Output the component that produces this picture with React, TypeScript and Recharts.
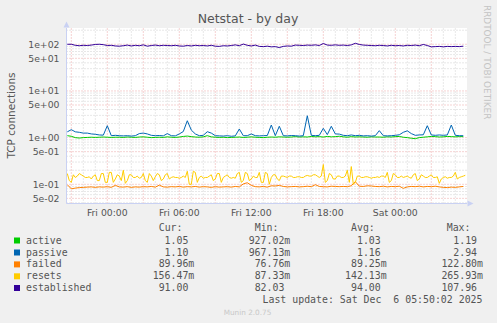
import React from "react";
import { LineChart, Line, XAxis, YAxis, CartesianGrid, ReferenceLine } from "recharts";

// hours relative to Fri 00:00
const START_HOUR = -3.333;
const STEP_HOURS = 1 / 3; // 20 min samples
const FINE_STEP_HOURS = 1 / 6; // 10 min samples (resets)

const active = [
  1.1, 1.07, 1.0, 0.98, 1.0, 1.01, 1.02, 1.01, 1.02, 1.03,
  1.02, 1.01, 1.02, 1.02, 1.01, 1.03, 1.02, 1.01, 1.03, 1.04,
  1.02, 1.0, 1.01, 1.02, 1.01, 1.04, 1.02, 1.01, 1.03, 1.06,
  1.08, 1.05, 1.03, 1.02, 1.04, 1.1, 1.04, 1.02, 1.01, 1.02,
  1.0, 1.01, 1.02, 1.03, 1.01, 1.02, 1.04, 1.02, 1.01, 1.0,
  1.02, 1.03, 1.02, 1.04, 1.03, 1.02, 1.03, 1.05, 1.03, 1.04,
  1.03, 1.06, 1.04, 1.05, 1.03, 1.06, 1.04, 1.05, 1.07, 1.04,
  1.02, 1.05, 1.03, 1.04, 1.03, 1.02, 1.04, 1.03, 1.03, 1.02,
  1.04, 1.03, 1.05, 1.06, 1.02, 1.0, 0.97, 0.95, 1.0, 1.02,
  1.04, 1.06, 1.05, 1.03, 1.04, 1.06, 1.05, 1.04, 1.05, 1.05,
];

const passive = [
  1.33, 1.48, 1.33, 1.3, 1.25, 1.25, 1.2, 1.18, 1.14, 1.13,
  1.8, 1.1, 1.12, 1.1, 1.09, 1.1, 1.08, 1.1, 1.22, 1.25,
  1.2, 1.12, 1.1, 1.11, 1.09, 1.22, 1.1, 1.09, 1.2, 1.35,
  2.3, 1.45, 1.2, 1.1, 1.12, 1.34, 1.25, 1.1, 1.09, 1.08,
  1.1, 1.07, 1.09, 1.53, 1.1, 1.1, 1.2, 1.1, 1.09, 1.1,
  1.11, 1.86, 1.1, 1.75, 1.1, 1.09, 1.11, 1.1, 1.08, 1.1,
  2.94, 1.12, 1.1, 1.12, 1.58, 1.16, 1.75, 1.2, 1.19, 1.12,
  1.1, 1.14, 1.1, 1.12, 1.09, 1.1, 1.08, 1.1, 1.41, 1.1,
  1.09, 1.1, 1.12, 1.15, 1.3, 1.4, 1.22, 1.12, 1.14, 1.15,
  1.8, 1.14, 1.12, 1.14, 1.12, 1.14, 1.86, 1.12, 1.1, 1.1,
];

const failed = [
  0.098, 0.08, 0.083, 0.085, 0.086, 0.087, 0.088, 0.086, 0.088, 0.087,
  0.089, 0.086, 0.095, 0.088, 0.087, 0.089, 0.086, 0.088, 0.087, 0.089,
  0.088, 0.09, 0.087, 0.096, 0.088, 0.087, 0.089, 0.088, 0.09, 0.087,
  0.089, 0.088, 0.09, 0.087, 0.089, 0.088, 0.086, 0.089, 0.087, 0.088,
  0.089, 0.087, 0.09, 0.088, 0.102, 0.108, 0.095, 0.089, 0.088, 0.09,
  0.087, 0.093, 0.092, 0.095, 0.09, 0.088, 0.089, 0.09, 0.088, 0.089,
  0.091, 0.089, 0.098, 0.09, 0.089, 0.088, 0.091, 0.09, 0.089, 0.09,
  0.089, 0.093, 0.114, 0.091, 0.09, 0.093, 0.092, 0.09, 0.089, 0.091,
  0.088, 0.09, 0.089, 0.091, 0.082, 0.088, 0.09, 0.089, 0.091, 0.088,
  0.09, 0.089, 0.091, 0.088, 0.086, 0.085, 0.087, 0.086, 0.088, 0.09,
];

// resets is read at twice the resolution (it is the noisiest series)
const resets = [
  0.17, 0.12, 0.11, 0.16, 0.14, 0.15, 0.17, 0.16, 0.15, 0.14, 0.14, 0.145, 0.13, 0.15, 0.16, 0.12, 0.12, 0.17, 0.17, 0.11,
  0.11, 0.18, 0.18, 0.11, 0.13, 0.16, 0.15, 0.12, 0.2, 0.105, 0.12, 0.16, 0.16, 0.14, 0.14, 0.15, 0.135, 0.14, 0.17, 0.12,
  0.11, 0.17, 0.15, 0.12, 0.145, 0.17, 0.16, 0.12, 0.13, 0.16, 0.17, 0.13, 0.14, 0.145, 0.14, 0.14, 0.135, 0.14, 0.15, 0.14,
  0.19, 0.1, 0.1, 0.19, 0.18, 0.11, 0.14, 0.15, 0.135, 0.14, 0.14, 0.15, 0.16, 0.12, 0.13, 0.17, 0.17, 0.11, 0.14, 0.15,
  0.16, 0.14, 0.135, 0.14, 0.135, 0.17, 0.18, 0.11, 0.12, 0.18, 0.17, 0.12, 0.13, 0.15, 0.14, 0.14, 0.18, 0.11, 0.11, 0.18,
  0.17, 0.1, 0.14, 0.16, 0.16, 0.13, 0.12, 0.15, 0.15, 0.145, 0.14, 0.15, 0.15, 0.14, 0.14, 0.145, 0.145, 0.14, 0.14, 0.15,
  0.155, 0.15, 0.15, 0.16, 0.16, 0.15, 0.14, 0.15, 0.265, 0.11, 0.12, 0.17, 0.16, 0.13, 0.13, 0.15, 0.15, 0.14, 0.14, 0.15,
  0.2, 0.11, 0.24, 0.1, 0.11, 0.15, 0.15, 0.14, 0.14, 0.145, 0.145, 0.14, 0.135, 0.14, 0.14, 0.145, 0.14, 0.15, 0.15, 0.14,
  0.18, 0.11, 0.12, 0.17, 0.16, 0.14, 0.14, 0.15, 0.14, 0.145, 0.15, 0.14, 0.135, 0.16, 0.17, 0.12, 0.13, 0.16, 0.15, 0.14,
  0.14, 0.15, 0.16, 0.14, 0.14, 0.145, 0.105, 0.13, 0.14, 0.145, 0.135, 0.14, 0.14, 0.15, 0.18, 0.13, 0.14, 0.145, 0.15, 0.156,
];

const established = [
  100, 100, 95, 93, 95, 94, 96, 99, 100, 98,
  94, 95, 92, 91, 93, 96, 92, 95, 93, 97,
  91, 94, 96, 93, 95, 94, 93, 95, 92, 91,
  94, 92, 95, 93, 94, 92, 95, 91, 90, 93,
  92, 94, 97, 93, 101, 95, 92, 96, 90, 89,
  91, 88, 89, 85, 90, 92, 91, 96, 95, 94,
  96, 95, 97, 94, 104, 96, 95, 97, 95, 96,
  94, 97, 105, 99, 96, 95, 94, 93, 95, 94,
  92, 95, 93, 94, 92, 95, 94, 96, 93, 99,
  94, 88, 89, 90, 88, 90, 89, 90, 89, 91,
];

const tickHours = [0, 6, 12, 18, 24];
const tickLabels = ["Fri 00:00", "Fri 06:00", "Fri 12:00", "Fri 18:00", "Sat 00:00"];
const yTicks = [0.05, 0.1, 0.5, 1, 5, 10, 50, 100];
const yLabels = ["5e-02", "1e-01", "5e-01", "1e+00", "5e+00", "1e+01", "5e+01", "1e+02"];

const seriesNames = ["active", "passive", "failed", "resets", "established"];
const seriesColors = ["#00CC00", "#0066B3", "#FF8000", "#FFCC00", "#330099"];
const curValues = ["1.05 ", "1.10 ", "89.96m", "156.47m", "91.00 "];
const minValues = ["927.02m", "967.13m", "76.76m", "87.33m", "82.03 "];
const avgValues = ["1.03 ", "1.16 ", "89.25m", "142.13m", "94.00 "];
const maxValues = ["1.19 ", "2.94 ", "122.80m", "265.93m", "107.96 "];

const data = active.map((a, i) => ({
  t: START_HOUR + i * STEP_HOURS,
  active: a,
  passive: passive[i],
  failed: failed[i],
  established: established[i],
}));
const resetsData = resets.map((v, i) => ({ t: START_HOUR + i * FINE_STEP_HOURS, resets: v }));

const minorY: number[] = [];
for (const d of [0.01, 0.1, 1, 10, 100]) {
  for (const m of [2, 3, 4, 6, 7, 8, 9]) minorY.push(+(d * m).toPrecision(3));
}
const hourLines: number[] = [];
for (let h = -3; h <= 29; h++) hourLines.push(h);

const FONT = "'DejaVu Sans', sans-serif";
const MONO = "'DejaVu Sans Mono', monospace";
const TEXT = "#555555";
const AXIS = "#c9d1f3";
const MINOR = "#cfcfcf";
const MAJOR = "#eaa5a5";

const rowBaselines = [243.5, 255.5, 267.4, 279.3, 291];
const colRight = [194.3, 290.3, 386.7, 483];

export default function App() {
  return (
    <div style={{ position: "relative", width: 497, height: 323, background: "#f0f0f0" }}>
      <style>{"body{margin:0}"}</style>
      <LineChart
        width={497}
        height={323}
        data={data}
        margin={{ top: 28, right: 30, bottom: 99.5, left: 0 }}
      >
        <CartesianGrid horizontal={false} vertical={false} fill="#ffffff" />
        {minorY.map((v) => (
          <ReferenceLine key={"my" + v} y={v} stroke={MINOR} strokeDasharray="1 2" zIndex={-50} />
        ))}
        {hourLines
          .filter((h) => h % 3 !== 0)
          .map((h) => (
            <ReferenceLine key={"mx" + h} x={h} stroke={MINOR} strokeDasharray="1 2" zIndex={-50} />
          ))}
        {yTicks.map((v) => (
          <ReferenceLine key={"My" + v} y={v} stroke={MAJOR} strokeDasharray="1 2" zIndex={-40} />
        ))}
        {hourLines
          .filter((h) => h % 3 === 0)
          .map((h) => (
            <ReferenceLine key={"Mx" + h} x={h} stroke={MAJOR} strokeDasharray="1 2" zIndex={-40} />
          ))}
        <XAxis
          dataKey="t"
          type="number"
          domain={[-3.4, 29.975]}
          allowDataOverflow
          ticks={tickHours}
          interval={0}
          tickFormatter={(v) => tickLabels[tickHours.indexOf(v)] ?? ""}
          height={20}
          tickLine={false}
          tickSize={0}
          tickMargin={5.5}
          axisLine={{ stroke: AXIS }}
          tick={{ fill: TEXT, fontSize: 9.3, fontFamily: FONT }}
        />
        <YAxis
          type="number"
          scale="log"
          domain={[0.0388, 223]}
          allowDataOverflow
          ticks={yTicks}
          interval={0}
          tickFormatter={(v) => yLabels[yTicks.indexOf(v)] ?? ""}
          width={66.5}
          tickLine={false}
          tickSize={0}
          tickMargin={7}
          axisLine={{ stroke: AXIS }}
          tick={{ fill: TEXT, fontSize: 9.3, fontFamily: FONT }}
        />
        {seriesNames.map((name, i) => (
          <Line
            key={name}
            type="linear"
            data={name === "resets" ? resetsData : undefined}
            dataKey={name}
            stroke={seriesColors[i]}
            strokeWidth={1}
            dot={false}
            activeDot={false}
            isAnimationActive={false}
          />
        ))}
      </LineChart>
      <svg
        width={497}
        height={323}
        style={{ position: "absolute", left: 0, top: 0, pointerEvents: "none" }}
      >
        <polygon points="63.5,27.5 69.5,27.5 66.5,21.5" fill={AXIS} />
        <polygon points="467.5,200.5 467.5,206.5 473.5,203.5" fill={AXIS} />
        <text x={248} y={22.7} textAnchor="middle" fontFamily={FONT} fontSize={12.5} fill={TEXT}>
          Netstat - by day
        </text>
        <text
          transform="translate(15,115.5) rotate(-90)"
          textAnchor="middle"
          fontFamily={FONT}
          fontSize={10.5}
          fill={TEXT}
        >
          TCP connections
        </text>
        <text
          transform="translate(484.3,5) rotate(90)"
          textAnchor="start"
          fontFamily={FONT}
          fontSize={8.9}
          fill="#c4c4c4"
        >
          RRDTOOL / TOBI OETIKER
        </text>
        <g fontFamily={MONO} fontSize={9.9} fill={TEXT}>
          <text x={158.7} y={231}>Cur:</text>
          <text x={254.7} y={231}>Min:</text>
          <text x={351} y={231}>Avg:</text>
          <text x={446.7} y={231}>Max:</text>
          {seriesNames.map((name, i) => (
            <g key={name}>
              <rect x={14} y={rowBaselines[i] - 6} width={6} height={6} fill={seriesColors[i]} />
              <text x={26} y={rowBaselines[i]}>{name}</text>
              {[curValues, minValues, avgValues, maxValues].map((col, c) => (
                <text
                  key={c}
                  x={colRight[c]}
                  y={rowBaselines[i]}
                  textAnchor="end"
                  xmlSpace="preserve"
                  style={{ whiteSpace: "pre" }}
                >
                  {col[i]}
                </text>
              ))}
            </g>
          ))}
          <text
            x={482.5}
            y={303.3}
            textAnchor="end"
            xmlSpace="preserve"
            style={{ whiteSpace: "pre" }}
          >
            {"Last update: Sat Dec  6 05:50:02 2025"}
          </text>
        </g>
        <text x={247.5} y={314.5} textAnchor="middle" fontFamily={FONT} fontSize={7.3} fill="#c8c8c8">
          Munin 2.0.75
        </text>
      </svg>
    </div>
  );
}
